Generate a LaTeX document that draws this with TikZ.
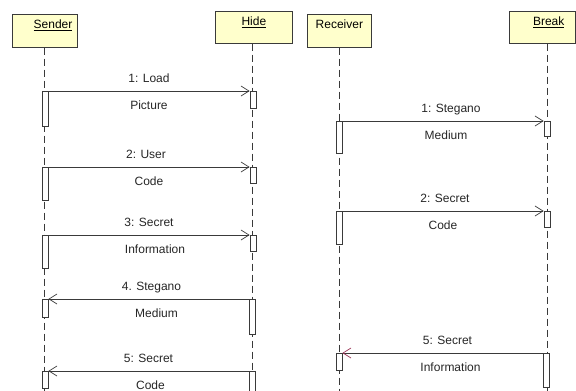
\documentclass[tikz,border=0pt]{standalone}
\usepackage{fontspec}
\setmainfont{Liberation Sans}
\usetikzlibrary{arrows.meta}
\usetikzlibrary{positioning}
\definecolor{headfill}{HTML}{FFFFCC}
\definecolor{linegray}{HTML}{3A3A3A}
\definecolor{tipred}{HTML}{993355}
\tikzstyle{every node}+=[inner sep=0pt]
\tikzstyle{head} = [rectangle, draw=linegray, fill=headfill, anchor=north west, text height=9pt, text depth=13pt, inner xsep=5pt, line width=0.7pt]
\tikzstyle{lifeline} = [draw=linegray, dash pattern=on 7pt off 4pt, line width=0.7pt]
\tikzstyle{act} = [rectangle, draw=linegray, fill=white, anchor=north, minimum width=6pt, line width=0.7pt]
\tikzstyle{msg} = [draw=linegray, line width=0.7pt, -{Straight Barb[length=8pt,width=10pt]}]
\tikzstyle{msgup} = [midway, anchor=base, yshift=9pt, text=black!85]
\tikzstyle{msgdown} = [midway, anchor=base, yshift=-18pt, text=black!85]

\begin{document}
\begin{tikzpicture}[x=1pt, y=-1pt, every node/.append style={font=\fontsize{12}{14}\selectfont}]
  \useasboundingbox (0,0) rectangle (576,391);
  % Place objects
  \node [head, minimum width=65pt, minimum height=33pt, text width=55pt, align=right] (sender) at (12,14) {\underline{Sender}};
  \node [head, minimum width=77pt, minimum height=32pt] (hide) at (215,11) {\underline{Hide}};
  \node [head, minimum width=64pt, minimum height=33pt] (receiver) at (307,14) {Receiver};
  \node [head, minimum width=66pt, minimum height=32pt, text width=44pt, align=right, inner xsep=11pt] (break) at (509,11) {\underline{Break}};
  % Lifelines
  \coordinate (sBot) at (44,391);
  \coordinate (hBot) at (252,391);
  \coordinate (rBot) at (339,391);
  \coordinate (bBot) at (547,391);
  \path [lifeline] (sender.south -| sBot) -- (sBot);
  \path [lifeline] (hide.south -| hBot) -- (hBot);
  \path [lifeline] (receiver.south -| rBot) -- (rBot);
  \path [lifeline] (break.south -| bBot) -- (bBot);
  % Activations
  \node [act, minimum height=35pt] (sAct1) at (45,91) {};
  \node [act, minimum height=17pt] (hAct1) at (253,91) {};
  \node [act, minimum height=33pt] (sAct2) at (45,167) {};
  \node [act, minimum height=16pt] (hAct2) at (253,167) {};
  \node [act, minimum height=33pt] (sAct3) at (45,235) {};
  \node [act, minimum height=16pt] (hAct3) at (253,235) {};
  \node [act, minimum height=18pt] (sAct4) at (45,299) {};
  \node [act, minimum height=35pt] (hAct4) at (252,299) {};
  \node [act, minimum height=17pt] (sAct5) at (45,371) {};
  \node [act, minimum height=20pt] (hAct5) at (252,371) {};
  \node [act, minimum height=32pt] (rAct1) at (339,121) {};
  \node [act, minimum height=15pt] (bAct1) at (547,121) {};
  \node [act, minimum height=33pt] (rAct2) at (339,211) {};
  \node [act, minimum height=16pt] (bAct2) at (547,211) {};
  \node [act, minimum height=17pt] (rAct5) at (339,353) {};
  \node [act, minimum height=34pt] (bAct5) at (546,353) {};
  % Draw messages
  \path [msg] (sAct1.north east) -- (hAct1.north west)
    node [msgup] {1: Load} node [msgdown] {Picture};
  \path [msg] (sAct2.north east) -- (hAct2.north west)
    node [msgup, xshift=-3pt] {2: User} node [msgdown] {Code};
  \path [msg] (sAct3.north east) -- (hAct3.north west)
    node [msgup] {3: Secret} node [msgdown, xshift=6pt] {Information};
  \path [msg] (hAct4.north west) -- (sAct4.north east)
    node [msgup, xshift=3pt] {4. Stegano} node [msgdown, xshift=8pt] {Medium};
  \path [msg] (hAct5.north west) -- (sAct5.north east)
    node [msgup] {5: Secret} node [msgdown, xshift=2pt] {Code};
  \path [msg] (rAct1.north east) -- (bAct1.north west)
    node [msgup, xshift=8pt] {1: Stegano} node [msgdown, xshift=3pt] {Medium};
  \path [msg] (rAct2.north east) -- (bAct2.north west)
    node [msgup, xshift=2pt] {2: Secret} node [msgdown] {Code};
  \path [msg, -{Straight Barb[length=8pt,width=10pt,color=tipred]}] (bAct5.north west) -- (rAct5.north east)
    node [msgup, xshift=5pt] {5: Secret} node [msgdown, xshift=8pt] {Information};
\end{tikzpicture}
\end{document}
